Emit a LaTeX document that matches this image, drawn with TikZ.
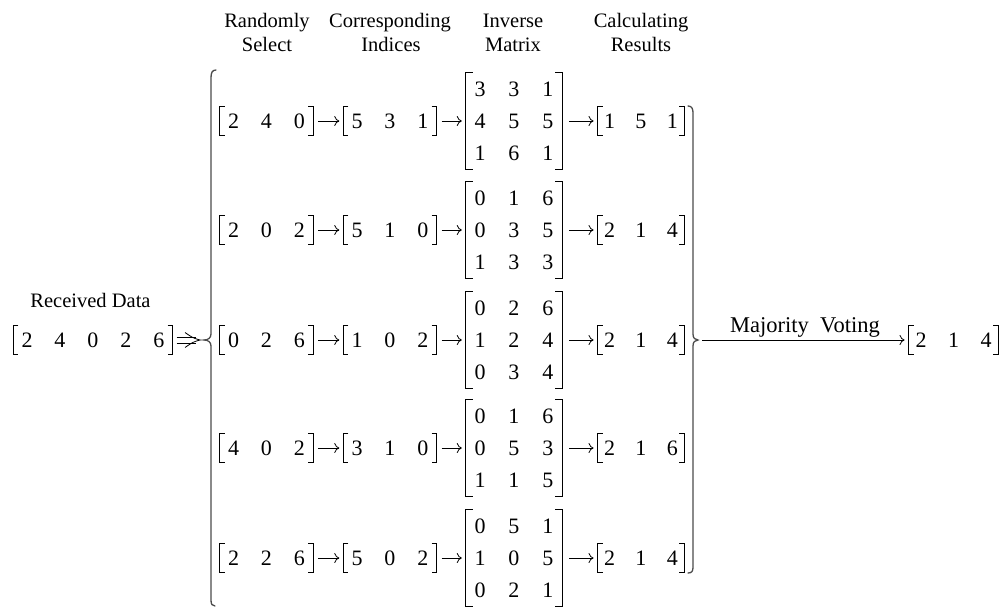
\documentclass[tikz,border=0pt]{standalone}
\usepackage{fontspec}
\setmainfont{Liberation Serif}
\usetikzlibrary{arrows.meta}
\newlength\cw
\setlength\cw{33pt}
\newcommand\dg[1]{\makebox[\cw][c]{#1}}
\newcommand\vbrk[1]{%
  \draw[vbr] ([xshift=5pt]#1.north west) -- (#1.north west) -- (#1.south west) -- ([xshift=5pt]#1.south west);
  \draw[vbr] ([xshift=-5pt]#1.north east) -- (#1.north east) -- (#1.south east) -- ([xshift=-5pt]#1.south east);}
\newcommand\mbrk[1]{%
  \draw[mbr] ([xshift=7pt]#1.north west) -- (#1.north west) -- (#1.south west) -- ([xshift=7pt]#1.south west);
  \draw[mbr] ([xshift=-7pt]#1.north east) -- (#1.north east) -- (#1.south east) -- ([xshift=-7pt]#1.south east);}
\begin{document}
\begin{tikzpicture}[x=1pt,y=-1pt,
  lbl/.style={anchor=base, inner sep=0pt, font=\fontsize{20.5}{24}\selectfont},
  vec/.style={inner xsep=-3pt, inner ysep=0pt, minimum height=28pt, font=\fontsize{22}{24}\selectfont},
  res/.style={inner xsep=-4pt, inner ysep=0pt, minimum height=28pt, font={\fontsize{22}{24}\selectfont\setlength\cw{31.5pt}}},
  fin/.style={inner xsep=-4pt, inner ysep=0pt, minimum height=28pt, font={\fontsize{22}{24}\selectfont\setlength\cw{32.5pt}}},
  mat/.style={inner xsep=-3pt, inner ysep=0pt, minimum height=97pt, align=center, font={\fontsize{22}{32}\selectfont\setlength\cw{34pt}}},
  vbr/.style={line width=1.2pt, line cap=butt, line join=miter},
  mbr/.style={line width=1pt, line cap=butt, line join=miter},
  ar/.style={-{To[length=5pt,width=10pt]}, line width=0.8pt, shorten <=5pt, shorten >=4pt},
  dl/.style={line width=0.8pt, line cap=butt},
  brace/.style={line width=1.3pt, black!70, line cap=round}]
\useasboundingbox (0,0) rectangle (1003,607);

% column headers
\node[lbl] (h1a) at (267,28) {Randomly};
\node[lbl] (h1b) at (267,52) {Select};
\node[lbl] (h2a) at (390,28) {Corresponding};
\node[lbl] (h2b) at (391,52) {Indices};
\node[lbl] (h3a) at (513,28) {Inverse};
\node[lbl] (h3b) at (513,52) {Matrix};
\node[lbl] (h4a) at (641,28) {Calculating};
\node[lbl] (h4b) at (641,52) {Results};

% received data
\node[lbl] (rd) at (90.5,307) {Received Data};
\node[vec] (r) at (93,340) {\dg{2}\dg{4}\dg{0}\dg{2}\dg{6}};
\vbrk{r}

% braces
\coordinate (lb) at (204,340);
\draw[brace] (216,70) .. controls (212,70) and (211,73) .. (211,78) -- (211,334)
  .. controls (211,338) and (208,340) .. (lb)
  .. controls (208,340) and (211,342) .. (211,346) -- (211,600)
  .. controls (211,604) and (212,606) .. (215,606);
\coordinate (rb) at (698,340);
\draw[brace] (688,106) .. controls (692,106) and (693,109) .. (693,113) -- (693,334)
  .. controls (693,338) and (695,340) .. (rb)
  .. controls (695,340) and (693,342) .. (693,346) -- (693,567)
  .. controls (693,571) and (692,573) .. (688,573);

% double arrow (received data => brace)
\draw[dl] ([xshift=4pt,yshift=3pt]r.east) -- ([xshift=-8pt,yshift=3pt]lb);
\draw[dl] ([xshift=4pt,yshift=-3pt]r.east) -- ([xshift=-8pt,yshift=-3pt]lb);
\draw[dl] ([xshift=-19pt,yshift=7.5pt]lb) .. controls ([xshift=-11pt,yshift=2pt]lb) .. ([xshift=-4pt]lb)
  .. controls ([xshift=-11pt,yshift=-2pt]lb) .. ([xshift=-19pt,yshift=-7.5pt]lb);

% row 1
\node[vec] (s1) at (266.5,121) {\dg2\dg4\dg0};
\node[vec] (c1) at (390,121) {\dg5\dg3\dg1};
\node[mat] (m1) at (514,121) {\dg3\dg3\dg1\\\dg4\dg5\dg5\\\dg1\dg6\dg1};
\node[res] (o1) at (641,121) {\dg1\dg5\dg1};
% row 2
\node[vec] (s2) at (266.5,230) {\dg2\dg0\dg2};
\node[vec] (c2) at (390,230) {\dg5\dg1\dg0};
\node[mat] (m2) at (514,230) {\dg0\dg1\dg6\\\dg0\dg3\dg5\\\dg1\dg3\dg3};
\node[res] (o2) at (641,230) {\dg2\dg1\dg4};
% row 3
\node[vec] (s3) at (266.5,340) {\dg0\dg2\dg6};
\node[vec] (c3) at (390,340) {\dg1\dg0\dg2};
\node[mat] (m3) at (514,340) {\dg0\dg2\dg6\\\dg1\dg2\dg4\\\dg0\dg3\dg4};
\node[res] (o3) at (641,340) {\dg2\dg1\dg4};
% row 4
\node[vec] (s4) at (266.5,448) {\dg4\dg0\dg2};
\node[vec] (c4) at (390,448) {\dg3\dg1\dg0};
\node[mat] (m4) at (514,448) {\dg0\dg1\dg6\\\dg0\dg5\dg3\\\dg1\dg1\dg5};
\node[res] (o4) at (641,448) {\dg2\dg1\dg6};
% row 5
\node[vec] (s5) at (266.5,558) {\dg2\dg2\dg6};
\node[vec] (c5) at (390,558) {\dg5\dg0\dg2};
\node[mat] (m5) at (514,558) {\dg0\dg5\dg1\\\dg1\dg0\dg5\\\dg0\dg2\dg1};
\node[res] (o5) at (641,558) {\dg2\dg1\dg4};

\foreach \i in {1,...,5}{
  \vbrk{s\i}
  \vbrk{c\i}
  \mbrk{m\i}
  \vbrk{o\i}
  \draw[ar] (s\i) -- (c\i);
  \draw[ar] (c\i) -- (m\i);
  \draw[ar, shorten <=7pt] (m\i) -- (o\i);
}

% majority voting
\node[fin] (f) at (953.5,340) {\dg2\dg1\dg4};
\vbrk{f}
\draw[ar, shorten <=4pt] (rb) -- (f);
\node[lbl, font=\fontsize{22.5}{24}\selectfont] (mv) at (805,332) {Majority\ \ Voting};
\end{tikzpicture}
\end{document}
